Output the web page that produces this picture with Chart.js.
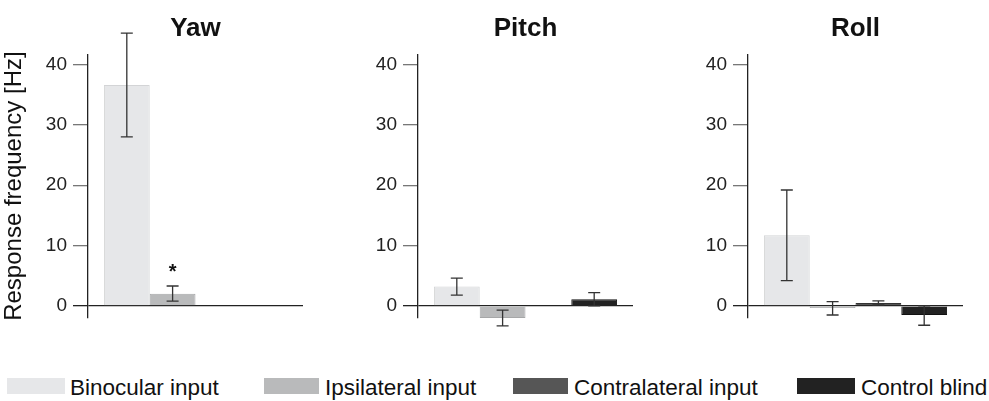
<!DOCTYPE html>
<html>
<head>
<meta charset="utf-8">
<script src="https://cdn.jsdelivr.net/npm/chart.js@4.4.1/dist/chart.umd.min.js"></script>
<style>
  html, body { margin: 0; padding: 0; background: #fff; }
  body { width: 989px; height: 401px; position: relative; overflow: hidden; font-family: "Liberation Sans", Arial, sans-serif; }
  .panel { position: absolute; top: 0; }
  .sw { position: absolute; top: 378px; height: 16px; }
  .lt { position: absolute; top: 375px; font-size: 22.5px; line-height: 26px; color: #111; white-space: nowrap; }
</style>
</head>
<body>
<div class="panel" style="left:0px"><canvas id="c0" width="330" height="330"></canvas></div>
<div class="panel" style="left:330px"><canvas id="c1" width="330" height="330"></canvas></div>
<div class="panel" style="left:660px"><canvas id="c2" width="329" height="330"></canvas></div>
<div id="legend"></div>
<script>
// ---- data ----
const groups = ['Yaw', 'Pitch', 'Roll'];
const seriesNames = ['Binocular input', 'Ipsilateral input', 'Contralateral input', 'Control blind'];
const seriesColors = ['#e6e7e9', '#b9babb', '#565656', '#222222'];
const seriesBorders = ['#d3d4d6', '#a6a7a8', '#333333', '#111111'];

const yawMean  = [36.6, 2.0, null, null];
const yawLow   = [28.0, 0.8, null, null];
const yawHigh  = [45.2, 3.3, null, null];
const yawMarks = ['', '*', '', ''];

const pitchMean  = [3.2, -2.0, null, 1.1];
const pitchLow   = [1.8, -3.3, null, 0.0];
const pitchHigh  = [4.6, -0.7, null, 2.2];
const pitchMarks = ['', '', '', ''];

const rollMean  = [11.7, -0.35, 0.5, -1.5];
const rollLow   = [4.2, -1.5, 0.15, -3.2];
const rollHigh  = [19.2, 0.7, 0.85, 0.0];
const rollMarks = ['', '', '', ''];

const yTicks = [0, 10, 20, 30, 40];
const yTitle = 'Response frequency [Hz]';

const panelData = [
  { mean: yawMean, low: yawLow, high: yawHigh, marks: yawMarks },
  { mean: pitchMean, low: pitchLow, high: pitchHigh, marks: pitchMarks },
  { mean: rollMean, low: rollLow, high: rollHigh, marks: rollMarks }
];

Chart.defaults.font.family = '"Liberation Sans", Arial, sans-serif';
Chart.defaults.color = '#111';

const errorBars = {
  id: 'errorBars',
  afterDatasetsDraw(chart, args, opts) {
    const ctx = chart.ctx;
    const y = chart.scales.y;
    ctx.save();
    ctx.strokeStyle = '#333';
    ctx.lineWidth = 1.3;
    chart.data.datasets.forEach((ds, i) => {
      const v = ds.data[0];
      if (v === null || v === undefined) return;
      const bar = chart.getDatasetMeta(i).data[0];
      const x = bar.x;
      const yh = y.getPixelForValue(opts.high[i]);
      const yl = y.getPixelForValue(opts.low[i]);
      const cw = 6;
      ctx.beginPath();
      ctx.moveTo(x, yh); ctx.lineTo(x, yl);
      ctx.moveTo(x - cw, yh); ctx.lineTo(x + cw, yh);
      ctx.moveTo(x - cw, yl); ctx.lineTo(x + cw, yl);
      ctx.stroke();
      if (opts.marks[i]) {
        ctx.fillStyle = '#111';
        ctx.font = 'bold 20px "Liberation Sans", Arial, sans-serif';
        ctx.textAlign = 'center';
        ctx.textBaseline = 'alphabetic';
        ctx.fillText(opts.marks[i], x, yh - 8);
      }
    });
    ctx.restore();
  }
};

groups.forEach((g, p) => {
  const d = panelData[p];
  const canvas = document.getElementById('c' + p);
  new Chart(canvas, {
    type: 'bar',
    data: {
      labels: [g],
      datasets: seriesNames.map((name, i) => ({
        label: name,
        data: [d.mean[i]],
        backgroundColor: seriesColors[i],
        borderColor: seriesBorders[i],
        borderWidth: 1,
        categoryPercentage: 0.852,
        barPercentage: 1.0
      }))
    },
    options: {
      responsive: false,
      animation: false,
      devicePixelRatio: 1,
      layout: { padding: { top: 0, right: canvas.width === 329 ? 26 : 27, bottom: 12, left: 0 } },
      plugins: {
        legend: { display: false },
        tooltip: { enabled: false },
        title: {
          display: true,
          text: g,
          fullSize: false,
          color: '#111',
          font: { size: 26, weight: 'bold' },
          padding: { top: 13, bottom: 10 }
        },
        errorBars: { low: d.low, high: d.high, marks: d.marks }
      },
      scales: {
        x: { display: false },
        y: {
          min: -2,
          max: 41.7,
          afterBuildTicks: axis => { axis.ticks = yTicks.map(v => ({ value: v })); },
          afterFit: axis => { axis.width = 88; axis.paddingTop = 0; axis.paddingBottom = 0; },
          border: { display: true, color: '#222', width: 1.3 },
          grid: {
            color: c => (c.tick && c.tick.value === 0) ? '#222' : 'rgba(0,0,0,0)',
            tickColor: c => (c.tick && c.tick.value === 0) ? '#222' : '#777',
            lineWidth: 1.3,
            tickLength: 15,
            drawTicks: true
          },
          ticks: {
            color: '#222',
            font: { size: 19 },
            padding: 6
          },
          title: {
            display: p === 0,
            text: yTitle,
            color: '#111',
            font: { size: 24 },
            padding: { top: 0, bottom: 0 }
          }
        }
      }
    },
    plugins: [errorBars]
  });
});

// ---- legend (HTML) ----
const legendSwatchX = [7, 264, 513, 797];
const legendSwatchW = [58, 55, 55, 58];
const legendTextX = [70, 325, 574, 861];
const lg = document.getElementById('legend');
seriesNames.forEach((name, i) => {
  const s = document.createElement('div');
  s.className = 'sw';
  s.style.left = legendSwatchX[i] + 'px';
  s.style.width = legendSwatchW[i] + 'px';
  s.style.background = seriesColors[i];
  lg.appendChild(s);
  const t = document.createElement('div');
  t.className = 'lt';
  t.style.left = legendTextX[i] + 'px';
  t.textContent = name;
  lg.appendChild(t);
});
</script>
</body>
</html>
